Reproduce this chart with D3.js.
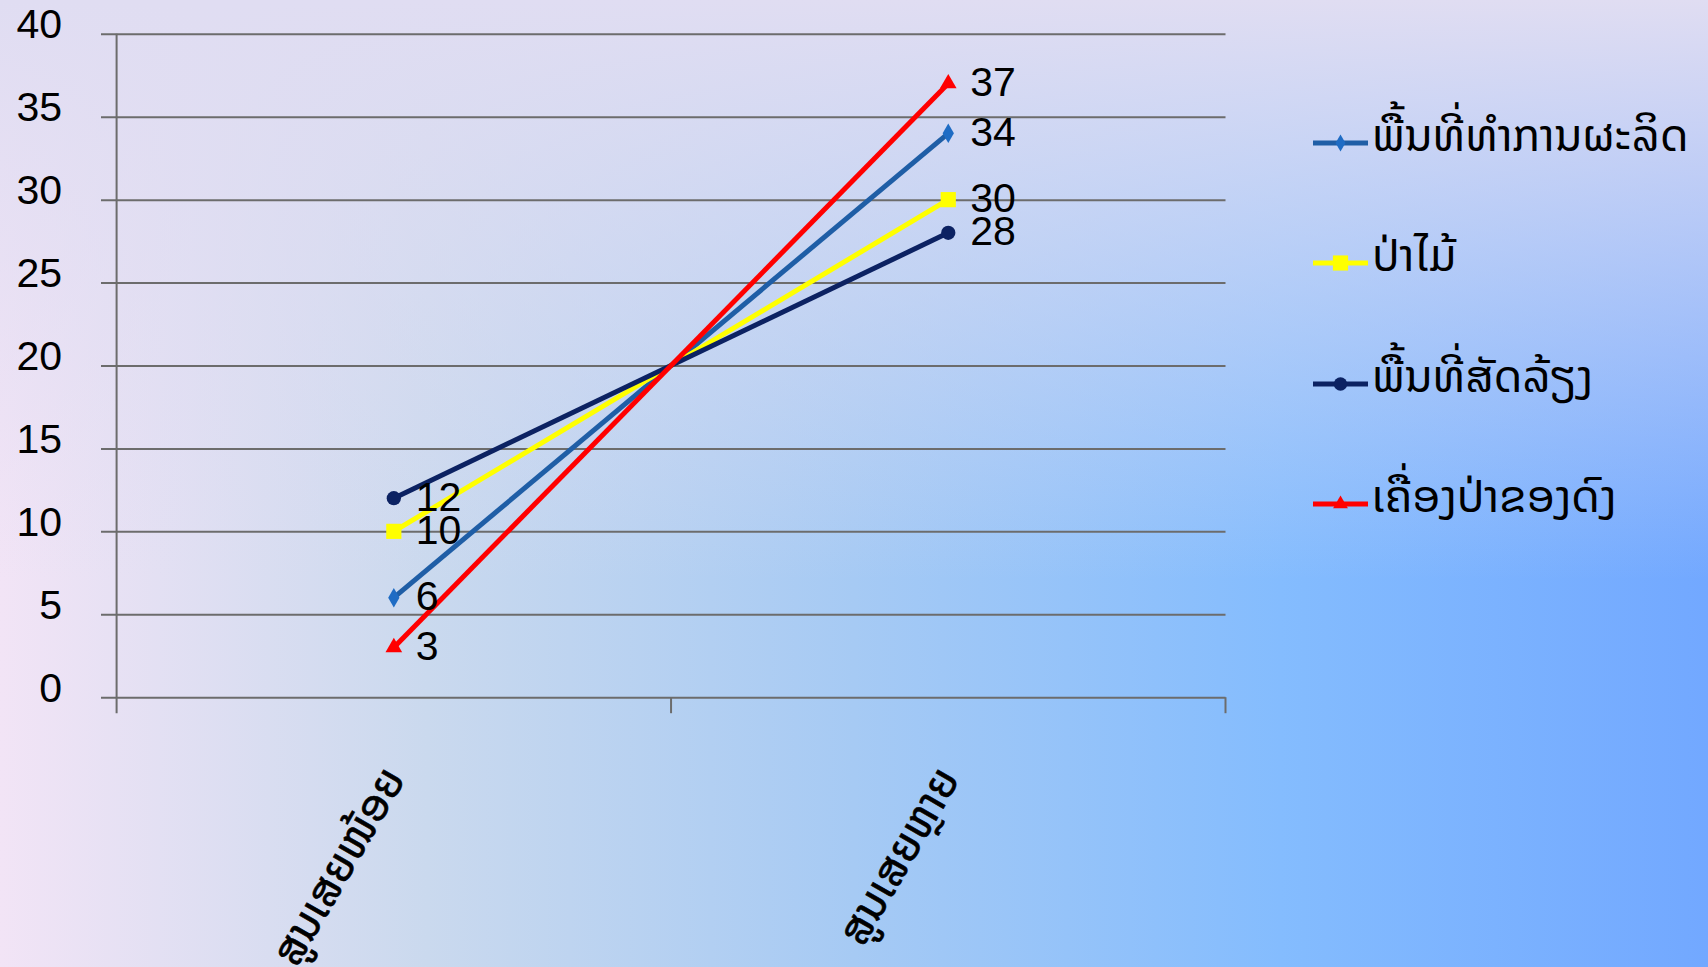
<!DOCTYPE html>
<html>
<head>
<meta charset="utf-8">
<script src="https://cdn.jsdelivr.net/npm/d3@7"></script>
<style>
  html, body { margin: 0; padding: 0; overflow: hidden; }
  svg { display: block; }
</style>
</head>
<body>
<svg id="chart" width="1708" height="967"></svg>
<script>
// ---- data ----
const categories = ["ສູນເສຍໜ້ອຍ", "ສູນເສຍຫຼາຍ"];
const seriesNames = ["ພື້ນທີ່ທຳການຜະລິດ", "ປ່າໄມ້", "ພື້ນທີ່ສັດລ້ຽງ", "ເຄື່ອງປ່າຂອງດົງ"];
const productionArea = [6, 34];
const forest = [10, 30];
const livestockArea = [12, 28];
const forestProducts = [3, 37];
const yTicks = [0, 5, 10, 15, 20, 25, 30, 35, 40];

const seriesValues = [productionArea, forest, livestockArea, forestProducts];
const seriesStyle = [
  { line: "#1f5ea6", fill: "#1f6cc4", symbol: d3.symbolDiamond, size: 110, lsize: 85 },
  { line: "#ffff00", fill: "#ffff00", symbol: d3.symbolSquare, size: 230, lsize: 230 },
  { line: "#0c2262", fill: "#0c2262", symbol: d3.symbolCircle, size: 160, lsize: 140 },
  { line: "#ff0000", fill: "#ff0000", symbol: d3.symbolTriangle, size: 120, lsize: 95 }
];

const W = 1708, H = 967;
const svg = d3.select("#chart");

// ---- background ----
const defs = svg.append("defs");
const gh = defs.append("linearGradient").attr("id", "bgH")
  .attr("x1", 0).attr("y1", 0).attr("x2", 1).attr("y2", 0);
[[0, "#f2e4f6"], [0.25, "#cad9ee"], [0.5, "#a6caf4"], [0.75, "#84bcfe"], [1, "#72a8ff"]]
  .forEach(([o, c]) => gh.append("stop").attr("offset", o).attr("stop-color", c));
const gv = defs.append("linearGradient").attr("id", "bgV")
  .attr("x1", 0).attr("y1", 0).attr("x2", 0).attr("y2", 1);
[[0, "#e0ddf2", 1], [0.6, "#e0ddf2", 0]]
  .forEach(([o, c, a]) => gv.append("stop").attr("offset", o).attr("stop-color", c).attr("stop-opacity", a));
svg.append("rect").attr("width", W).attr("height", H).attr("fill", "url(#bgH)");
svg.append("rect").attr("width", W).attr("height", H).attr("fill", "url(#bgV)");

// ---- scales ----
const plotLeft = 116.6, plotRight = 1225.5, plotTop = 33.8, plotBottom = 697.2;
const y = d3.scaleLinear().domain([0, 40]).range([plotBottom, plotTop]);
const x = d3.scaleBand().domain(categories).range([plotLeft, plotRight]);
const cx = c => x(c) + x.bandwidth() / 2;

const numFont = "'Liberation Sans', Arial, sans-serif";
const laoFont = "'Noto Sans Lao', 'Noto Sans', sans-serif";

// ---- y axis with gridlines ----
const gridLeft = 101;
const yAxis = d3.axisLeft(y).tickValues(yTicks)
  .tickSize(plotRight - gridLeft).tickPadding(39);
const gy = svg.append("g").attr("transform", `translate(${plotRight},0)`).call(yAxis);
gy.select(".domain").remove();
gy.selectAll(".tick line").attr("stroke", "#6c6c6c").attr("stroke-width", 2);
gy.selectAll(".tick text")
  .attr("font-family", numFont).attr("font-size", 41).attr("fill", "#000")
  .attr("dy", "0.32em").attr("y", -9);

// y axis line
svg.append("line")
  .attr("x1", plotLeft).attr("x2", plotLeft)
  .attr("y1", plotTop).attr("y2", plotBottom + 16)
  .attr("stroke", "#6c6c6c").attr("stroke-width", 2);

// x axis ticks at band boundaries
const xTickPos = categories.map(c => x(c)).concat([x.range()[1]]);
svg.selectAll("line.xtick").data(xTickPos.slice(1)).enter().append("line")
  .attr("class", "xtick")
  .attr("x1", d => d).attr("x2", d => d)
  .attr("y1", plotBottom).attr("y2", plotBottom + 16)
  .attr("stroke", "#6c6c6c").attr("stroke-width", 2);

// category labels
svg.selectAll("text.cat").data(categories).enter().append("text")
  .attr("class", "cat")
  .attr("transform", d => `translate(${cx(d) - 1},${771}) rotate(-60)`)
  .attr("text-anchor", "end")
  .attr("dy", "0.35em")
  .attr("font-family", laoFont).attr("font-size", 44).attr("fill", "#000")
  .attr("stroke", "#000").attr("stroke-width", 0.6)
  .text(d => d);

// ---- lines ----
const line = d3.line().x((d, i) => cx(categories[i])).y(d => y(d));
seriesValues.forEach((vals, si) => {
  const st = seriesStyle[si];
  svg.append("path").datum(vals)
    .attr("d", line).attr("fill", "none")
    .attr("stroke", st.line).attr("stroke-width", 5);
});
seriesValues.forEach((vals, si) => {
  const st = seriesStyle[si];
  svg.selectAll(null).data(vals).enter().append("path")
    .attr("transform", (d, i) => `translate(${cx(categories[i])},${y(d)})`)
    .attr("d", d3.symbol().type(st.symbol).size(st.size))
    .attr("fill", st.fill);
});
// data labels
seriesValues.forEach((vals, si) => {
  svg.selectAll(null).data(vals).enter().append("text")
    .attr("x", (d, i) => cx(categories[i]) + 22)
    .attr("y", d => y(d) - 2)
    .attr("dy", "0.35em")
    .attr("font-family", numFont).attr("font-size", 41).attr("fill", "#000")
    .text(d => d);
});

// ---- legend ----
const legendY = [143, 263, 384, 504];
const lg = svg.append("g");
seriesNames.forEach((name, si) => {
  const st = seriesStyle[si];
  const ly = legendY[si];
  lg.append("line").attr("x1", 1313).attr("x2", 1368).attr("y1", ly).attr("y2", ly)
    .attr("stroke", st.line).attr("stroke-width", 5);
  lg.append("path").attr("transform", `translate(1340.5,${ly})`)
    .attr("d", d3.symbol().type(st.symbol).size(st.lsize)).attr("fill", st.fill);
  lg.append("text").attr("x", 1372).attr("y", ly + 8)
    .attr("font-family", laoFont).attr("font-size", 45).attr("fill", "#000")
    .text(name);
});
</script>
</body>
</html>
